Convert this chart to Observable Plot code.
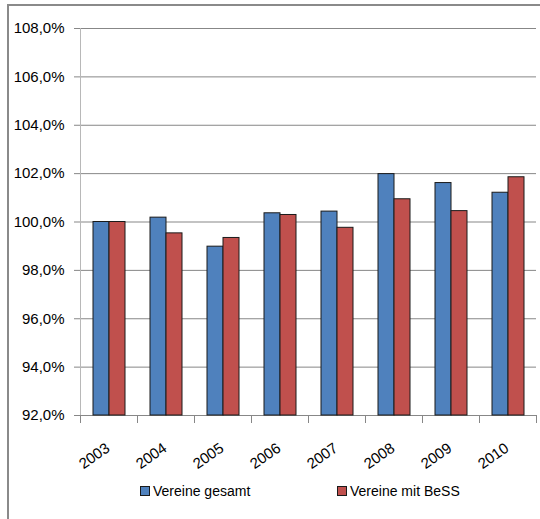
<!DOCTYPE html>
<html>
<head>
<meta charset="utf-8">
<script src="https://cdn.jsdelivr.net/npm/d3@7"></script>
<script src="https://cdn.jsdelivr.net/npm/@observablehq/plot@0.6"></script>
<style>
  body { margin: 0; background: #fff; }
  #wrap { position: relative; width: 540px; height: 519px; overflow: hidden; font-family: "Liberation Sans", Arial, sans-serif; }
  #border { position: absolute; left: 7px; top: 4px; width: 540px; height: 530px; border-left: 2px solid #8a8a8a; border-top: 2px solid #8a8a8a; }
  #chart { position: absolute; left: 0; top: 0; }
  .leg { position: absolute; top: 483px; font-size: 14px; color: #000; display: flex; align-items: center; white-space: nowrap; }
  .sw { display: inline-block; width: 8px; height: 8px; border: 1px solid #1a1a1a; margin-right: 3px; }
</style>
</head>
<body>
<div id="wrap">
  <div id="border"></div>
  <div id="chart"></div>
  <div id="legend"></div>
</div>
<script>
const years = ["2003", "2004", "2005", "2006", "2007", "2008", "2009", "2010"];
const series = ["Vereine gesamt", "Vereine mit BeSS"];
const gesamt = [100.0, 100.18, 98.98, 100.36, 100.43, 101.98, 101.61, 101.21];
const bess = [100.0, 99.53, 99.34, 100.29, 99.76, 100.94, 100.45, 101.85];
const yTicks = [92, 94, 96, 98, 100, 102, 104, 106, 108];
const colors = ["#4F81BD", "#C0504D"];

const data = years.flatMap((y, i) => [
  {year: y, series: series[0], value: gesamt[i]},
  {year: y, series: series[1], value: bess[i]}
]);

const fmt = d => d.toFixed(1).replace(".", ",") + "%";

const chart = Plot.plot({
  width: 540,
  height: 515,
  marginTop: 28,
  marginLeft: 78,
  marginRight: 3,
  marginBottom: 100,
  style: {fontFamily: "'Liberation Sans', Arial, sans-serif", fontSize: "15px", background: "transparent", color: "#000"},
  fx: {domain: years, paddingInner: 0, paddingOuter: 0, label: null},
  x: {domain: series, paddingInner: 0, paddingOuter: 0.74, axis: null},
  y: {domain: [yTicks[0], yTicks[yTicks.length - 1]], axis: null},
  color: {domain: series, range: colors},
  marks: [
    Plot.gridY(yTicks, {stroke: "#878787", strokeOpacity: 1}),
    Plot.ruleY([yTicks[0]], {stroke: "#878787"}),
    Plot.frame({anchor: "left", stroke: "#b8b8b8", facetAnchor: "left"}),
    Plot.frame({anchor: "left", stroke: "#878787", insetTop: 387, insetBottom: -7}),
    Plot.frame({anchor: "right", stroke: "#878787", insetTop: 387, insetBottom: -7, facetAnchor: "right"}),
    Plot.barY(data, {fx: "year", x: "series", y1: yTicks[0], y2: "value", fill: "series", stroke: "#1a1a1a", strokeWidth: 1}),
    Plot.axisY(yTicks, {tickFormat: fmt, tickSize: 6, tickPadding: 10, stroke: "#878787", fill: "#000", fontSize: 15, label: null}),
    Plot.axisFx({anchor: "bottom", tickSize: 0, tickRotate: -35, textAnchor: "end", tickPadding: 31, dx: -1, fontSize: 15, label: null, fill: "#000"})
  ]
});
document.getElementById("chart").appendChild(chart);

const legendX = [140, 337];
const legend = document.getElementById("legend");
series.forEach((s, i) => {
  const item = document.createElement("div");
  item.className = "leg";
  item.style.left = legendX[i] + "px";
  const sw = document.createElement("span");
  sw.className = "sw";
  sw.style.background = colors[i];
  item.appendChild(sw);
  item.appendChild(document.createTextNode(s));
  legend.appendChild(item);
});
</script>
</body>
</html>
